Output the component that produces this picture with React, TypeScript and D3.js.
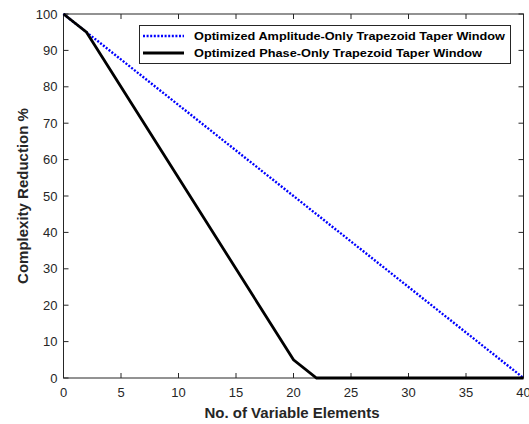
import React from "react";
import * as d3 from "d3";

const xValues = [0, 2, 20, 22, 40];
const amplitudeOnly = [100, 95, 50, 45, 0];
const phaseOnly = [100, 95, 5, 0, 0];
const xTicks = [0, 5, 10, 15, 20, 25, 30, 35, 40];
const yTicks = [0, 10, 20, 30, 40, 50, 60, 70, 80, 90, 100];
const legendLabels = [
  "Optimized Amplitude-Only Trapezoid Taper Window",
  "Optimized Phase-Only Trapezoid Taper Window",
];
const xLabel = "No. of Variable Elements";
const yLabel = "Complexity Reduction %";

export default function App() {
  const W = 529, H = 424;
  const left = 63.5, right = 523.5, top = 14, bottom = 378;
  const x = d3.scaleLinear().domain([0, 40]).range([left, right]);
  const y = d3.scaleLinear().domain([0, 100]).range([bottom, top]);
  const line = d3
    .line<number>()
    .x((_, i) => x(xValues[i]))
    .y((d) => y(d));
  const axisColor = "#262626";
  const font = "'Liberation Sans', Arial, sans-serif";
  const tl = 5;
  return (
    <svg
      width={W}
      height={H}
      style={{ position: "absolute", left: 0, top: 0, background: "#fff" }}
      fontFamily={font}
    >
      <rect x={0} y={0} width={W} height={H} fill="#fff" />
      {xTicks.map((t) => (
        <g key={"x" + t}>
          <line x1={x(t)} x2={x(t)} y1={bottom} y2={bottom - tl} stroke={axisColor} strokeWidth={1} />
          <line x1={x(t)} x2={x(t)} y1={top} y2={top + tl} stroke={axisColor} strokeWidth={1} />
          <text x={x(t)} y={bottom + 19} textAnchor="middle" fontSize={13} fill={axisColor}>
            {t}
          </text>
        </g>
      ))}
      {yTicks.map((t) => (
        <g key={"y" + t}>
          <line x1={left} x2={left + tl} y1={y(t)} y2={y(t)} stroke={axisColor} strokeWidth={1} />
          <line x1={right} x2={right - tl} y1={y(t)} y2={y(t)} stroke={axisColor} strokeWidth={1} />
          <text x={left - 6} y={y(t) + 4.5} textAnchor="end" fontSize={13} fill={axisColor}>
            {t}
          </text>
        </g>
      ))}
      <rect x={left} y={top} width={right - left} height={bottom - top} fill="none" stroke={axisColor} strokeWidth={1} />
      <path d={line(amplitudeOnly) || ""} fill="none" stroke="#0000ff" strokeWidth={2.4} strokeDasharray="2 1.6" />
      <path d={line(phaseOnly) || ""} fill="none" stroke="#000" strokeWidth={2.8} />
      <rect x={139.5} y={25.5} width={371} height={38} fill="#fff" stroke={axisColor} strokeWidth={1} />
      <line x1={143} x2={184} y1={36} y2={36} stroke="#0000ff" strokeWidth={2.4} strokeDasharray="2 1.6" />
      <line x1={143} x2={184} y1={53} y2={53} stroke="#000" strokeWidth={2.8} />
      <text x={194} y={40} fontSize={11} fontWeight="bold" fill="#000" textLength={311} lengthAdjust="spacingAndGlyphs">
        {legendLabels[0]}
      </text>
      <text x={194} y={57} fontSize={11} fontWeight="bold" fill="#000" textLength={288} lengthAdjust="spacingAndGlyphs">
        {legendLabels[1]}
      </text>
      <text x={292} y={418} textAnchor="middle" fontSize={15} fontWeight="bold" fill={axisColor}>
        {xLabel}
      </text>
      <text
        transform={`translate(28,${(top + bottom) / 2}) rotate(-90)`}
        textAnchor="middle"
        fontSize={15}
        fontWeight="bold"
        fill={axisColor}
      >
        {yLabel}
      </text>
    </svg>
  );
}
